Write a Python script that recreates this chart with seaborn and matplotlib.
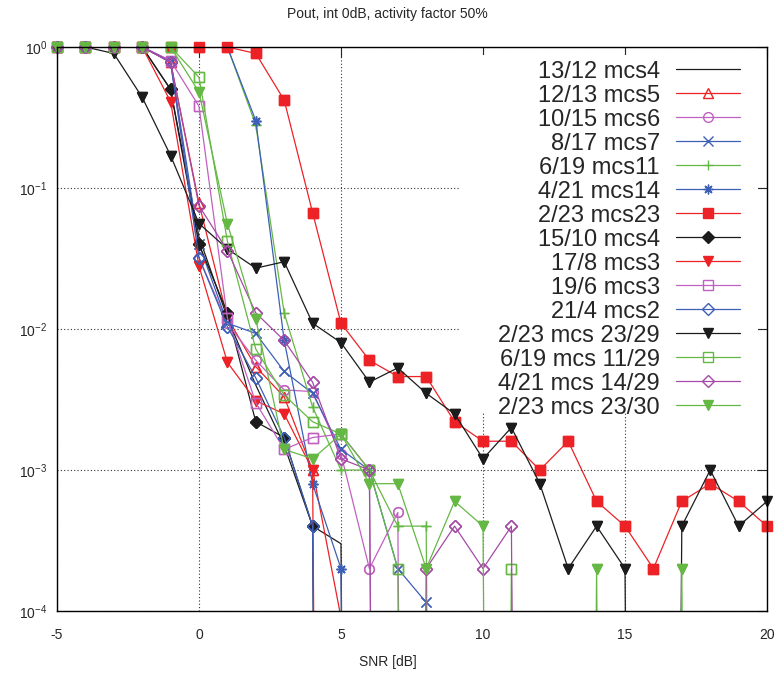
import matplotlib
matplotlib.use("Agg")
import matplotlib.pyplot as plt
import matplotlib.ticker as tkr
import numpy as np
import pandas as pd
import seaborn as sns
from matplotlib.patches import Rectangle

nan = np.nan

# SNR grid (dB)
snr = list(range(-5, 21))

# outage probability per configuration, 0 = no outage observed, nan = not simulated
s_13_12_mcs4 = [1, 1, 1, 1, 0.5, 0.045, 0.012, 0.004, 0.0015, 0.0004, 0.0003] + [nan] * 15
s_12_13_mcs5 = [1, 1, 1, 1, 0.78, 0.078, 0.012, 0.0054, 0.0033, 0.001, 0.00009] + [nan] * 15
s_10_15_mcs6 = [1, 1, 1, 1, 0.78, 0.032, 0.011, 0.006, 0.0037, 0.0036, 0.0013, 0.0002, 0.0005] + [nan] * 13
s_8_17_mcs7 = [1, 1, 1, 1, 0.8, 0.04, 0.011, 0.0093, 0.005, 0.0035, 0.0014, 0.001, 0.0002, 0.000115, 0] + [nan] * 11
s_6_19_mcs11 = [1, 1, 1, 1, 1, 1, 1, 0.28, 0.013, 0.0028, 0.001, 0.001, 0.0004, 0.0004, 0] + [nan] * 11
s_4_21_mcs14 = [1, 1, 1, 1, 1, 1, 1, 0.30, 0.0083, 0.0008, 0.0002, 0] + [nan] * 14
s_2_23_mcs23 = [1, 1, 1, 1, 1, 1, 1, 0.9, 0.42, 0.067, 0.011, 0.006, 0.0046, 0.0046, 0.0022,
                0.0016, 0.0016, 0.001, 0.0016, 0.0006, 0.0004, 0.0002, 0.0006, 0.0008, 0.0006, 0.0004]
s_15_10_mcs4 = [1, 1, 1, 1, 0.5, 0.04, 0.013, 0.0022, 0.0017, 0.0004] + [nan] * 16
s_17_8_mcs3 = [1, 1, 1, 1, 0.41, 0.028, 0.0058, 0.0031, 0.0025, 0.001] + [nan] * 16
s_19_6_mcs3 = [1, 1, 1, 1, 0.8, 0.38, 0.012, 0.003, 0.0014, 0.0017, 0.0018, 0.001, 0] + [nan] * 13
s_21_4_mcs2 = [1, 1, 1, 1, 0.78, 0.032, 0.0104, 0.0045, 0.0017, 0.0004] + [nan] * 16
s_2_23_mcs23_29 = [1, 1, 0.9, 0.44, 0.17, 0.056, 0.037, 0.027, 0.03, 0.011, 0.008, 0.0042, 0.0053,
                   0.0035, 0.0025, 0.0012, 0.002, 0.0008, 0.0002, 0.0004, 0.0002, 0, 0.0004, 0.001,
                   0.0004, 0.0006]
s_6_19_mcs11_29 = [1, 1, 1, 1, 1, 0.61, 0.042, 0.0072, 0.0034, 0.0022, 0.0018, 0.001, 0.0002,
                   0, 0, 0, 0.0002, 0] + [nan] * 8
s_4_21_mcs14_29 = [1, 1, 1, 1, 0.78, 0.075, 0.036, 0.013, 0.0083, 0.0042, 0.0012, 0.001, 0,
                   0.0002, 0.0004, 0.0002, 0.0004, 0] + [nan] * 8
s_2_23_mcs23_30 = [1, 1, 1, 1, 1, 0.48, 0.056, 0.0117, 0.0014, 0.0012, 0.0018, 0.0008, 0.0008,
                   0.0002, 0.0006, 0.0004, 0, 0, 0, 0.0002, 0, 0, 0.0002, 0, 0, 0]

RED = '#ec2226'
GREEN = '#66b845'
BLUE = '#3d5fb5'
MAGENTA = '#c061c0'
PURPLE = '#a64aa6'
BLACK = '#1c1c1c'

# label, data, colour, marker, filled
series = [
    ('13/12 mcs4', s_13_12_mcs4, BLACK, None, False),
    ('12/13 mcs5', s_12_13_mcs5, RED, '^', False),
    ('10/15 mcs6', s_10_15_mcs6, MAGENTA, 'o', False),
    ('8/17 mcs7', s_8_17_mcs7, BLUE, 'x', False),
    ('6/19 mcs11', s_6_19_mcs11, GREEN, '+', False),
    ('4/21 mcs14', s_4_21_mcs14, BLUE, (8, 2, 0), False),
    ('2/23 mcs23', s_2_23_mcs23, RED, 's', True),
    ('15/10 mcs4', s_15_10_mcs4, BLACK, 'D', True),
    ('17/8 mcs3', s_17_8_mcs3, RED, 'v', True),
    ('19/6 mcs3', s_19_6_mcs3, MAGENTA, 's', False),
    ('21/4 mcs2', s_21_4_mcs2, BLUE, 'D', False),
    ('2/23 mcs 23/29', s_2_23_mcs23_29, BLACK, 'v', True),
    ('6/19 mcs 11/29', s_6_19_mcs11_29, GREEN, 's', False),
    ('4/21 mcs 14/29', s_4_21_mcs14_29, PURPLE, 'D', False),
    ('2/23 mcs 23/30', s_2_23_mcs23_30, GREEN, 'v', True),
]

sns.set_style('white')
plt.rcParams['font.family'] = ['Liberation Sans', 'DejaVu Sans']
plt.rcParams['axes.unicode_minus'] = False

fig, ax = plt.subplots(figsize=(7.75, 6.84), dpi=100)
fig.subplots_adjust(left=0.0735, right=0.9897, top=0.9313, bottom=0.1067)
ax.set_yscale('log')

for name, vals, color, marker, filled in series:
    y = np.array(vals, dtype=float)
    # zero outage -> far below the axis, so the line drops straight down
    y = np.where(y > 0, y, 1e-30)
    df = pd.DataFrame({'snr': snr, 'pout': y}).dropna()
    ms = 6 if marker in ('D',) else 7
    kw = dict(marker=marker, markersize=ms, markeredgewidth=1.0,
              markeredgecolor=color,
              markerfacecolor=color if filled else 'none')
    sns.lineplot(data=df, x='snr', y='pout', color=color, lw=0.9,
                 estimator=None, errorbar=None, label=name, ax=ax, **kw)
    if marker is not None:
        shown = df[(df.pout >= 1e-4) & (df.pout <= 1)]
        ax.plot(shown.snr, shown.pout, ls='none', clip_on=False, **kw)

ax.set_xlim(-5, 20)
ax.set_ylim(1e-4, 1)
ax.xaxis.set_major_locator(tkr.MultipleLocator(5))
ax.yaxis.set_minor_locator(tkr.NullLocator())
ax.tick_params(direction='in', top=True, right=True, length=7, width=0.8,
               labelsize=10, pad=7)
ax.tick_params(axis='x', pad=12)
ax.grid(True, which='major', ls=(0, (1, 2)), color='#333333', lw=0.8)
for sp in ax.spines.values():
    sp.set_color('black')
    sp.set_linewidth(1.0)
ax.set_xlabel('')
ax.set_ylabel('')

# white key area that hides the grid, as gnuplot does
ax.add_patch(Rectangle((0.568, 0.353), 0.419, 0.632, transform=ax.transAxes,
                       facecolor='white', edgecolor='none', zorder=1.7))

leg = ax.legend(loc='upper right', bbox_to_anchor=(0.962, 0.976), frameon=False,
                fontsize=17, markerfirst=False, handlelength=2.7,
                handletextpad=0.7, labelspacing=0.085, borderpad=0,
                borderaxespad=0, numpoints=1)

fig.text(0.5, 1 - 14 / 684, 'Pout, int 0dB, activity factor 50%', ha='center',
         va='center', fontsize=10)
fig.text(0.5, 1 - 662 / 684, 'SNR [dB]', ha='center', va='center', fontsize=10)

fig.savefig('out.png', dpi=100)
